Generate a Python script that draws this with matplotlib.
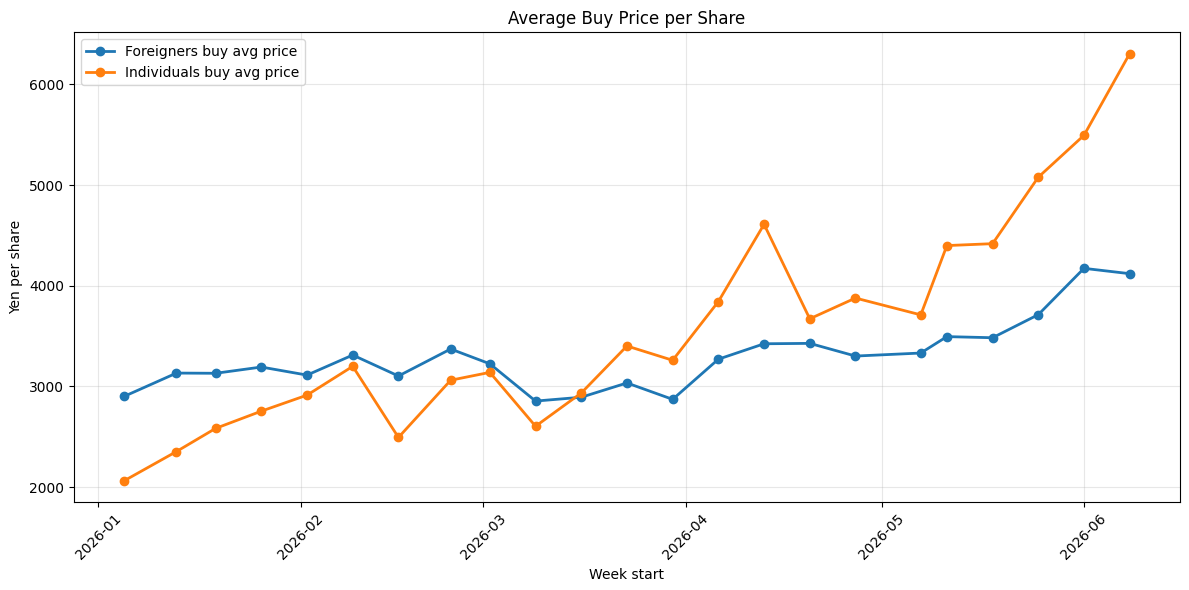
import matplotlib
matplotlib.use("Agg")
import matplotlib.pyplot as plt
import pandas as pd

week_start = ["2026-01-05", "2026-01-13", "2026-01-19", "2026-01-26", "2026-02-02", "2026-02-09",
              "2026-02-16", "2026-02-24", "2026-03-02", "2026-03-09", "2026-03-16", "2026-03-23",
              "2026-03-30", "2026-04-06", "2026-04-13", "2026-04-20", "2026-04-27", "2026-05-07",
              "2026-05-11", "2026-05-18", "2026-05-25", "2026-06-01", "2026-06-08"]
foreigners = [2902, 3133, 3131, 3193, 3113, 3312, 3104, 3372, 3225, 2855, 2893, 3035, 2872,
              3271, 3424, 3428, 3302, 3332, 3495, 3484, 3713, 4173, 4120]
individuals = [2064, 2354, 2584, 2755, 2914, 3200, 2494, 3062, 3140, 2605, 2935, 3402, 3260,
               3843, 4610, 3672, 3878, 3711, 4399, 4418, 5078, 5494, 6305]

dates = pd.to_datetime(week_start)

fig, ax = plt.subplots(figsize=(11.89, 5.9), dpi=100)
ax.plot(dates, foreigners, marker="o", lw=2, label="Foreigners buy avg price")
ax.plot(dates, individuals, marker="o", lw=2, label="Individuals buy avg price")
ax.set_title("Average Buy Price per Share")
ax.set_xlabel("Week start")
ax.set_ylabel("Yen per share")
ax.grid(True, alpha=0.3)
ax.legend(loc="upper left")
plt.xticks(rotation=45)
fig.subplots_adjust(left=0.0622, right=0.9924, top=0.9453, bottom=0.149)
plt.savefig("out.png", dpi=100)
